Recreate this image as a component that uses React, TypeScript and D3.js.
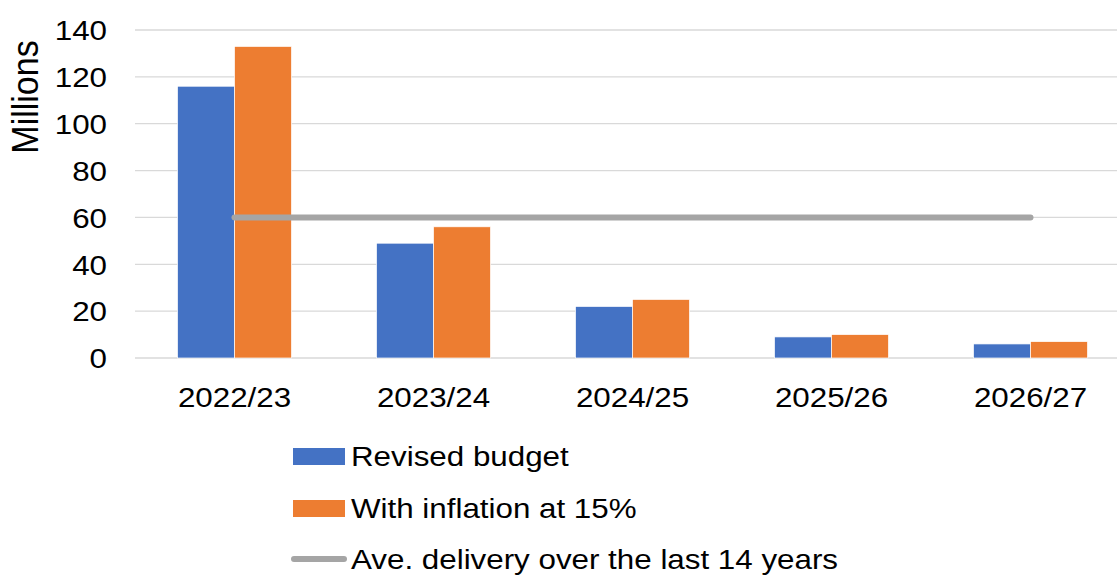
import React, { useRef, useEffect } from 'react';
import * as d3 from 'd3';

const categories = ['2022/23', '2023/24', '2024/25', '2025/26', '2026/27'];
const revisedBudget = [116, 49, 22, 9, 6];
const withInflation = [133, 56, 25, 10, 7];
const aveDelivery = [60, 60, 60, 60, 60];
const yTicks = [0, 20, 40, 60, 80, 100, 120, 140];

const W = 1117;
const H = 575;
const FONT = '"Liberation Sans", Arial, sans-serif';
const FS = 28.5;
const SX = 1.1; // text in the original is a bit wide

const App: React.FC = () => {
	const ref = useRef<SVGSVGElement | null>(null);

	useEffect(() => {
		if (!ref.current) return;
		const svg = d3.select(ref.current);
		svg.selectAll('*').remove();

		const left = 135;
		const step = 199;
		const x = d3.scaleBand<string>()
			.domain(categories)
			.range([left, left + step * categories.length])
			.paddingInner(0)
			.paddingOuter(0);
		const y = d3.scaleLinear().domain([0, 140]).range([358, 30]);

		const barW = 57;

		// gridlines
		svg.append('g')
			.selectAll('line')
			.data(yTicks)
			.join('line')
			.attr('x1', left)
			.attr('x2', W)
			.attr('y1', d => y(d))
			.attr('y2', d => y(d))
			.attr('stroke', '#d9d9d9')
			.attr('stroke-width', 1.3);

		// y tick labels
		svg.append('g')
			.selectAll('text')
			.data(yTicks)
			.join('text')
			.attr('transform', d => `translate(107, ${y(d)}) scale(${SX}, 1)`)
			.attr('dy', '0.36em')
			.attr('text-anchor', 'end')
			.attr('font-family', FONT)
			.attr('font-size', FS)
			.attr('fill', '#000')
			.text(d => d);

		svg.append('text')
			.attr('transform', `translate(38, 97) scale(${SX}, 1) rotate(-90)`)
			.attr('text-anchor', 'middle')
			.attr('font-family', FONT)
			.attr('font-size', 34)
			.attr('fill', '#000')
			.text('Millions');

		const cx = (c: string) => (x(c) as number) + x.bandwidth() / 2;

		// bars
		svg.append('g')
			.selectAll('rect')
			.data(categories)
			.join('rect')
			.attr('x', c => cx(c) - barW)
			.attr('width', barW)
			.attr('y', (c, i) => y(revisedBudget[i]))
			.attr('height', (c, i) => y(0) - y(revisedBudget[i]))
			.attr('fill', '#4472c4')
			.attr('stroke', '#fff')
			.attr('stroke-width', 0.7);

		svg.append('g')
			.selectAll('rect')
			.data(categories)
			.join('rect')
			.attr('x', c => cx(c))
			.attr('width', barW)
			.attr('y', (c, i) => y(withInflation[i]))
			.attr('height', (c, i) => y(0) - y(withInflation[i]))
			.attr('fill', '#ed7d31')
			.attr('stroke', '#fff')
			.attr('stroke-width', 0.7);

		// average line
		const line = d3.line<number>()
			.x((d, i) => cx(categories[i]))
			.y(d => y(d));
		svg.append('path')
			.datum(aveDelivery)
			.attr('d', line)
			.attr('fill', 'none')
			.attr('stroke', '#a5a5a5')
			.attr('stroke-width', 6)
			.attr('stroke-linecap', 'round');

		// x labels
		svg.append('g')
			.selectAll('text')
			.data(categories)
			.join('text')
			.attr('transform', c => `translate(${cx(c)}, 407) scale(${SX}, 1)`)
			.attr('text-anchor', 'middle')
			.attr('font-family', FONT)
			.attr('font-size', FS)
			.attr('fill', '#000')
			.text(c => c);

		// legend
		const lg = svg.append('g');
		const items = [
			{ label: 'Revised budget', color: '#4472c4', kind: 'rect', y: 456 },
			{ label: 'With inflation at 15%', color: '#ed7d31', kind: 'rect', y: 508 },
			{ label: 'Ave. delivery over the last 14 years', color: '#a5a5a5', kind: 'line', y: 559 },
		];
		items.forEach(it => {
			if (it.kind === 'rect') {
				lg.append('rect')
					.attr('x', 293).attr('y', it.y - 8).attr('width', 52).attr('height', 17)
					.attr('fill', it.color);
			} else {
				lg.append('line')
					.attr('x1', 294).attr('x2', 344).attr('y1', it.y).attr('y2', it.y)
					.attr('stroke', it.color).attr('stroke-width', 6).attr('stroke-linecap', 'round');
			}
			lg.append('text')
				.attr('transform', `translate(351, ${it.y}) scale(${SX}, 1)`)
				.attr('dy', '0.36em')
				.attr('font-family', FONT)
				.attr('font-size', FS)
				.attr('fill', '#000')
				.text(it.label);
		});
	}, []);

	return (
		<svg ref={ref} width={W} height={H}
			style={{ position: 'absolute', left: 0, top: 0, background: '#fff' }} />
	);
};

export default App;
